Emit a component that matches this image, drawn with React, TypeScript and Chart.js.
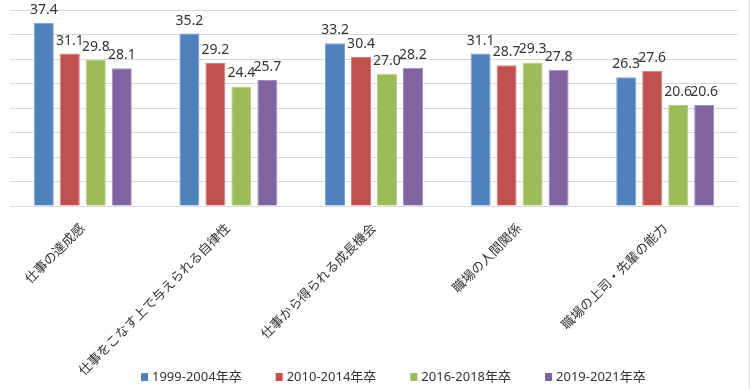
import React, { useEffect, useRef } from "react";
import { Chart, registerables } from "chart.js";

Chart.register(...registerables);

const categories = [
  "仕事の達成感",
  "仕事をこなす上で与えられる自律性",
  "仕事から得られる成長機会",
  "職場の人間関係",
  "職場の上司・先輩の能力",
];
const seriesNames = ["1999-2004年卒", "2010-2014年卒", "2016-2018年卒", "2019-2021年卒"];
const grad1999 = [37.4, 35.2, 33.2, 31.1, 26.3];
const grad2010 = [31.1, 29.2, 30.4, 28.7, 27.6];
const grad2016 = [29.8, 24.4, 27.0, 29.3, 20.6];
const grad2019 = [28.1, 25.7, 28.2, 27.8, 20.6];
const seriesColors = ["#4F81BD", "#C0504D", "#9BBB59", "#8064A2"];
const seriesBorders = ["#7DA0CF", "#D47F7D", "#B5CE85", "#A48DBE"];
const yMin = 0;
const yMax = 40;
const yStep = 5;

const FONT = "'Noto Sans', 'Noto Sans CJK JP', sans-serif";
const TEXT_COLOR = "#333333";
const GRID_COLOR = "#d9d9d9";

const valueLabels = {
  id: "valueLabels",
  afterDatasetsDraw(chart: any) {
    const ctx = chart.ctx;
    ctx.save();
    ctx.font = `14px ${FONT}`;
    ctx.fillStyle = TEXT_COLOR;
    ctx.textAlign = "center";
    ctx.textBaseline = "alphabetic";
    chart.data.datasets.forEach((ds: any, i: number) => {
      const meta = chart.getDatasetMeta(i);
      meta.data.forEach((el: any, j: number) => {
        const v = ds.data[j] as number;
        ctx.fillText(v.toFixed(1), el.x, el.y - 9);
      });
    });
    ctx.restore();
  },
};

const customLegend = {
  id: "customLegend",
  afterDraw(chart: any) {
    const ctx = chart.ctx;
    ctx.save();
    ctx.font = `13px ${FONT}`;
    ctx.textBaseline = "middle";
    ctx.textAlign = "left";
    let x = 141;
    const y = 377;
    chart.data.datasets.forEach((ds: any) => {
      ctx.fillStyle = ds.backgroundColor;
      ctx.fillRect(x, y - 4, 7, 8);
      x += 11;
      ctx.fillStyle = TEXT_COLOR;
      ctx.fillText(ds.label, x, y);
      x += ctx.measureText(ds.label).width + 34;
    });
    // outer right frame line
    ctx.strokeStyle = GRID_COLOR;
    ctx.lineWidth = 1;
    ctx.beginPath();
    ctx.moveTo(chart.width - 0.5, 0);
    ctx.lineTo(chart.width - 0.5, chart.height);
    ctx.stroke();
    ctx.restore();
  },
};

export default function App() {
  const canvasRef = useRef<HTMLCanvasElement | null>(null);

  useEffect(() => {
    if (!canvasRef.current) return;
    const seriesData = [grad1999, grad2010, grad2016, grad2019];
    const chart = new Chart(canvasRef.current, {
      type: "bar",
      data: {
        labels: categories,
        datasets: seriesNames.map((name, i) => ({
          label: name,
          data: seriesData[i],
          backgroundColor: seriesColors[i],
          borderColor: seriesBorders[i],
          borderWidth: 1,
          categoryPercentage: 0.714,
          barPercentage: 0.77,
        })),
      },
      options: {
        animation: false,
        responsive: true,
        maintainAspectRatio: false,
        layout: { padding: { left: 10, right: 12, top: 10, bottom: 0 } },
        plugins: {
          legend: { display: false },
          tooltip: { enabled: false },
        },
        scales: {
          x: {
            grid: { display: false, drawTicks: false },
            border: { display: true, color: GRID_COLOR, width: 1 },
            ticks: {
              autoSkip: false,
              minRotation: 45,
              maxRotation: 45,
              padding: 15,
              color: TEXT_COLOR,
              font: { family: FONT, size: 13 },
            },
            afterFit(scale: any) {
              scale.height = 183;
            },
          },
          y: {
            min: yMin,
            max: yMax,
            ticks: { display: false, stepSize: yStep },
            grid: { color: GRID_COLOR, drawTicks: false, lineWidth: 1 },
            border: { display: false },
            afterFit(scale: any) {
              scale.width = 0;
            },
          },
        },
      },
      plugins: [valueLabels, customLegend],
    });
    return () => chart.destroy();
  }, []);

  return (
    <div style={{ position: "absolute", left: 0, top: 0, width: 750, height: 389, background: "#fff" }}>
      <canvas ref={canvasRef} />
    </div>
  );
}
